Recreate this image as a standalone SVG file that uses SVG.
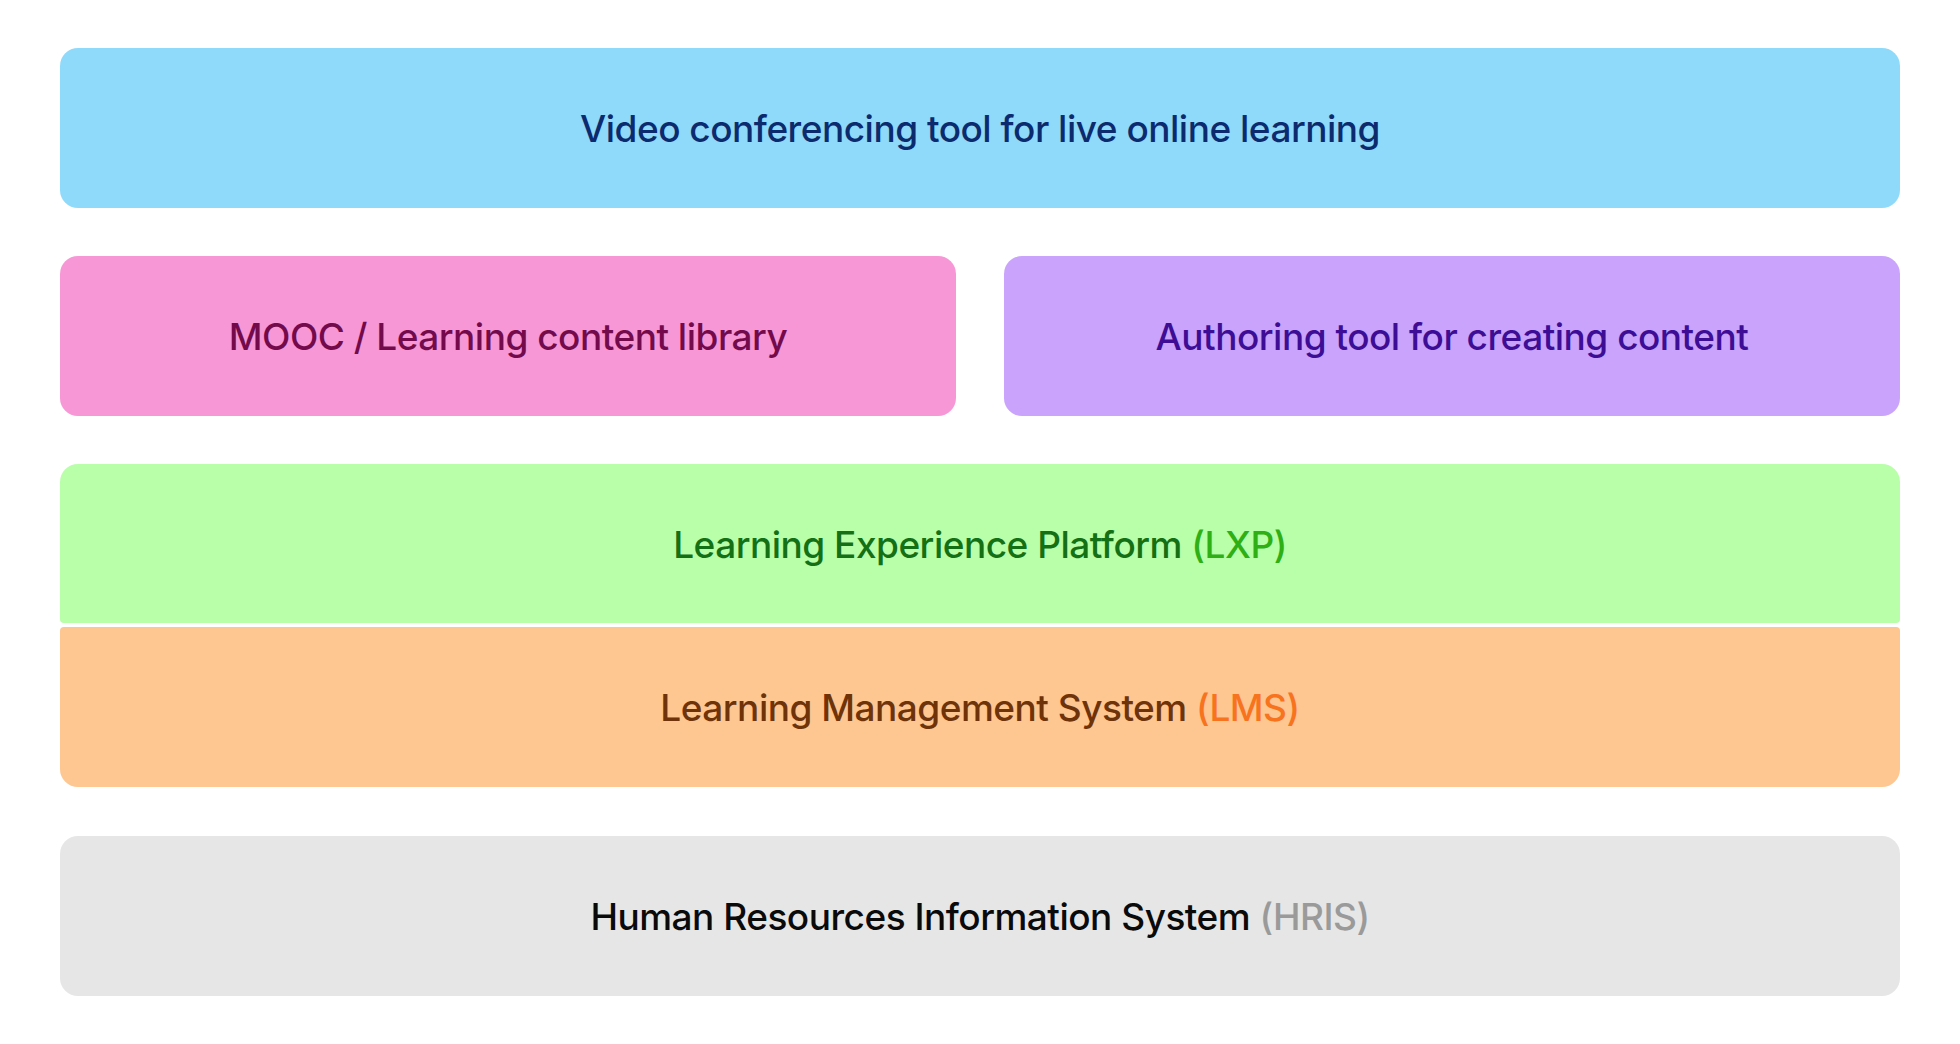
<svg xmlns="http://www.w3.org/2000/svg" width="1960" height="1044" viewBox="0 0 1960 1044">
  <style>
    .lbl { font-family: Inter, "Noto Sans", "Liberation Sans", sans-serif; font-size: 37px; font-weight: 500; letter-spacing: -0.5px; text-anchor: middle; }
  </style>
  <rect x="0" y="0" width="1960" height="1044" fill="#ffffff"/>
  <g id="video">
    <rect x="60" y="48" width="1840" height="160" rx="18" fill="#8fd9fa"/>
    <text class="lbl" x="980" y="142" fill="#0c2b6e">Video conferencing tool for live online learning</text>
  </g>
  <g id="mooc">
    <rect x="60" y="256" width="896" height="160" rx="18" fill="#f797d6"/>
    <text class="lbl" x="508" y="350" fill="#730a4c">MOOC / Learning content library</text>
  </g>
  <g id="authoring">
    <rect x="1004" y="256" width="896" height="160" rx="18" fill="#c9a3fc"/>
    <text class="lbl" x="1452" y="350" fill="#3d0d96">Authoring tool for creating content</text>
  </g>
  <g id="lxp">
    <path d="M78 464 H1882 A18 18 0 0 1 1900 482 V619 A4 4 0 0 1 1896 623 H64 A4 4 0 0 1 60 619 V482 A18 18 0 0 1 78 464 Z" fill="#b9fea9"/>
    <text class="lbl" x="980" y="558" fill="#137015">Learning Experience Platform <tspan fill="#2eaf14">(LXP)</tspan></text>
  </g>
  <g id="lms">
    <path d="M64 627 H1896 A4 4 0 0 1 1900 631 V769 A18 18 0 0 1 1882 787 H78 A18 18 0 0 1 60 769 V631 A4 4 0 0 1 64 627 Z" fill="#fec691"/>
    <text class="lbl" x="980" y="721" fill="#6e3308">Learning Management System <tspan fill="#f7731e">(LMS)</tspan></text>
  </g>
  <g id="hris">
    <rect x="60" y="836" width="1840" height="160" rx="18" fill="#e6e6e6"/>
    <text class="lbl" x="980" y="930" fill="#0a0a0a">Human Resources Information System <tspan fill="#9a9a9a">(HRIS)</tspan></text>
  </g>
  <g id="connectors"/>
</svg>
